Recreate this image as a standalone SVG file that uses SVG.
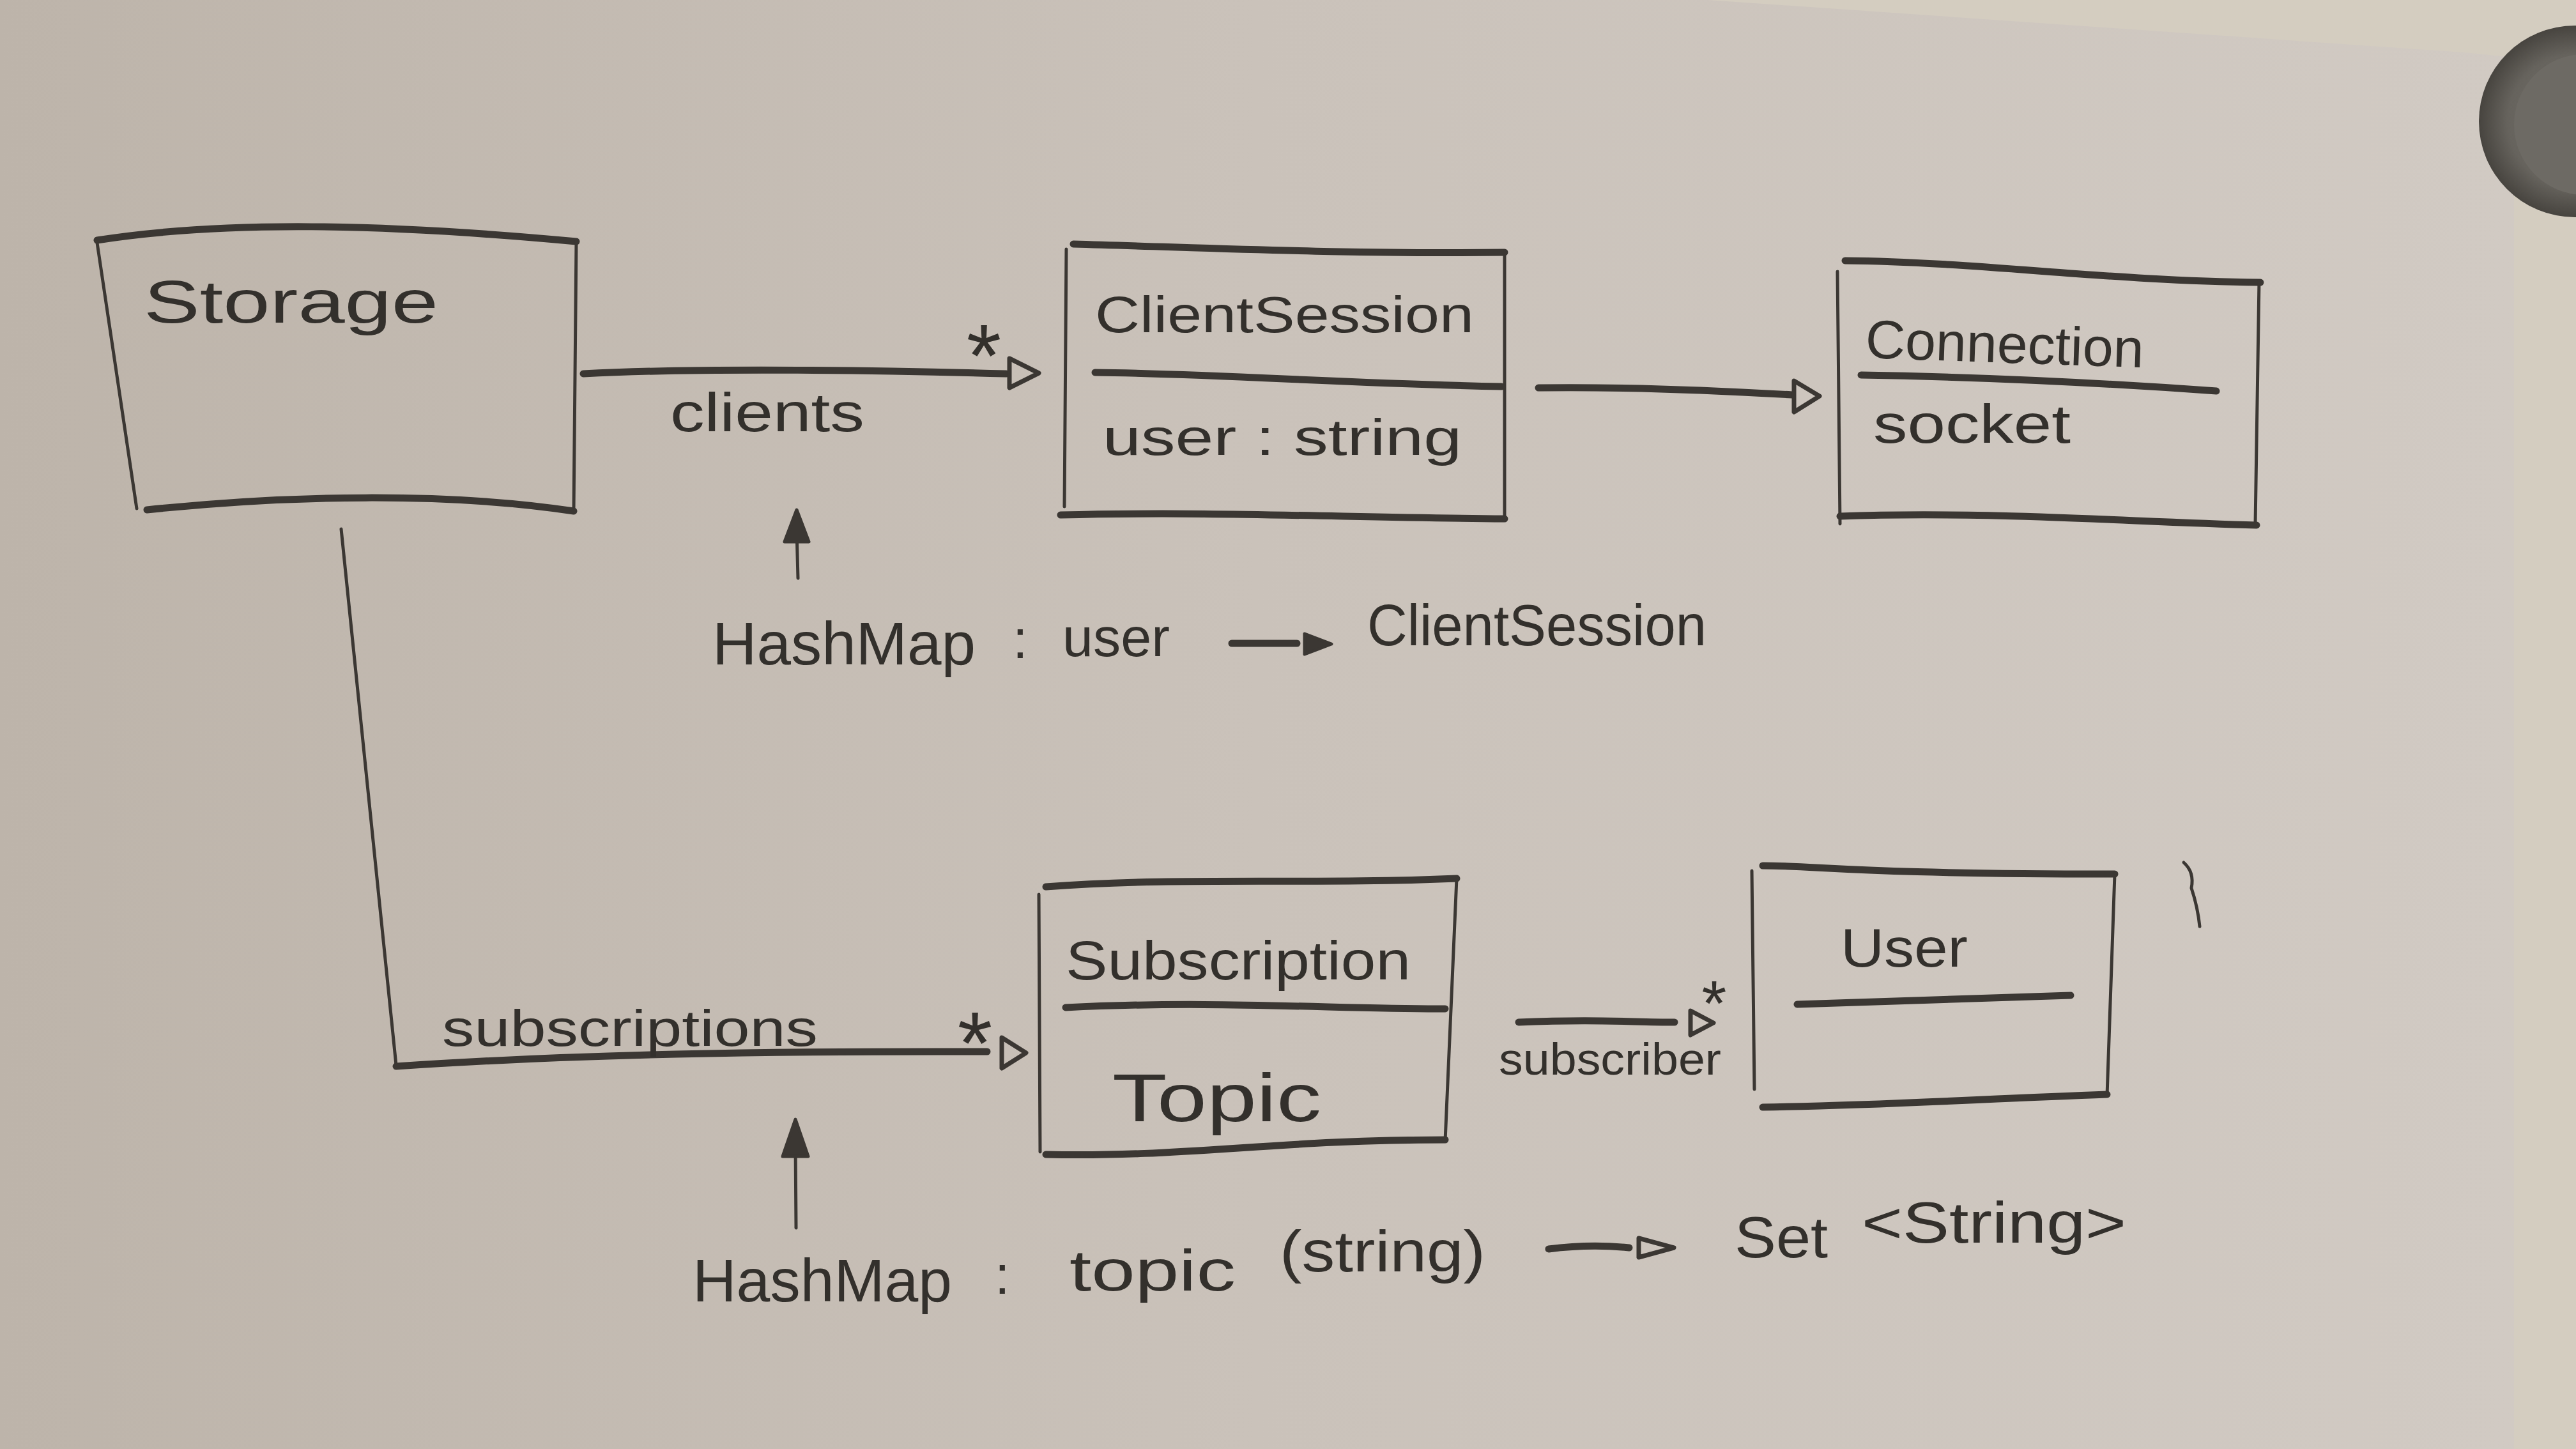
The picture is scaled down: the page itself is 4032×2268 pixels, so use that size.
<svg xmlns="http://www.w3.org/2000/svg" width="4032" height="2268" viewBox="0 0 4032 2268">
<defs>
<linearGradient id="paper" x1="0" y1="0" x2="1" y2="0">
<stop offset="0" stop-color="#bdb4aa"/>
<stop offset="0.5" stop-color="#cac2ba"/>
<stop offset="1" stop-color="#d1cac3"/>
</linearGradient>
<radialGradient id="mag" cx="0.5" cy="0.5" r="0.5">
<stop offset="0" stop-color="#75726c"/>
<stop offset="0.7" stop-color="#66635d"/>
<stop offset="1" stop-color="#47443f"/>
</radialGradient>
<style>
.thick{fill:none;stroke:#3b3733;stroke-width:11;stroke-linecap:round;stroke-linejoin:round}
.thin{fill:none;stroke:#3b3733;stroke-width:5;stroke-linecap:round;stroke-linejoin:round}
.head{fill:none;stroke:#3b3733;stroke-width:7;stroke-linejoin:round}
.fhead{fill:#3b3733;stroke:#3b3733;stroke-width:5;stroke-linejoin:round}
.t{font-family:"Liberation Sans","DejaVu Sans",sans-serif;fill:#33302c;font-weight:normal}
</style>
</defs>
<rect x="0" y="0" width="4032" height="2268" fill="#d4cdc0"/>
<path d="M0,0 L2674,0 L3857,82 L3935,90 L3935,2268 L0,2268 Z" fill="url(#paper)"/>
<circle cx="4030" cy="190" r="150" fill="url(#mag)"/>
<circle cx="4045" cy="195" r="110" fill="#6d6a64"/>
<path d="M3418,1350 Q3435,1365 3430,1390 Q3440,1420 3443,1450" class="thin" stroke-width="4"/>

<g id="connectors">
<path d="M913,585 C1100,575 1400,580 1575,585" class="thick" stroke-width="9"/>
<path d="M1580,561 L1626,584 L1580,607 Z" class="head"/>
<text x="1540" y="605" class="t" font-size="140" text-anchor="middle">*</text>
<text x="1049" y="675" class="t" font-size="85" textLength="304" lengthAdjust="spacingAndGlyphs">clients</text>

<path d="M2408,607 C2550,605 2700,612 2805,618" class="thick" stroke-width="9"/>
<path d="M2808,596 L2848,620 L2808,645 Z" class="head"/>

<path d="M534,828 L620,1667" class="thin"/>
<path d="M620,1669 C900,1650 1200,1645 1545,1646" class="thick" stroke-width="9"/>
<path d="M1568,1624 L1606,1648 L1568,1672 Z" class="head"/>
<text x="1526" y="1681" class="t" font-size="140" text-anchor="middle">*</text>
<text x="692" y="1637" class="t" font-size="80" textLength="588" lengthAdjust="spacingAndGlyphs">subscriptions</text>

<path d="M2377,1600 C2500,1595 2550,1600 2621,1600" class="thick" stroke-width="9"/>
<path d="M2646,1582 L2682,1601 L2646,1620 Z" class="head"/>
<text x="2683" y="1605" class="t" font-size="100" text-anchor="middle">*</text>
<text x="2346" y="1682" class="t" font-size="70" textLength="348" lengthAdjust="spacingAndGlyphs">subscriber</text>

<path d="M1249,905 L1247,830" class="thin"/>
<path d="M1247,798 L1266,848 L1228,848 Z" class="fhead"/>
<path d="M1246,1922 L1245,1790" class="thin"/>
<path d="M1245,1752 L1265,1810 L1225,1810 Z" class="fhead"/>
</g>

<g id="hashmap-clients">
<text x="1115" y="1040" class="t" font-size="95" textLength="412" lengthAdjust="spacingAndGlyphs">HashMap</text>
<text x="1585" y="1030" class="t" font-size="85">:</text>
<text x="1663" y="1027" class="t" font-size="85" textLength="168" lengthAdjust="spacingAndGlyphs">user</text>
<path d="M1928,1007 L2030,1007" class="thick" stroke-width="10"/>
<path d="M2042,992 L2084,1008 L2042,1024 Z" class="fhead"/>
<text x="2140" y="1010" class="t" font-size="90" textLength="531" lengthAdjust="spacingAndGlyphs">ClientSession</text>
</g>

<g id="hashmap-subscriptions">
<text x="1084" y="2037" class="t" font-size="95" textLength="406" lengthAdjust="spacingAndGlyphs">HashMap</text>
<text x="1557" y="2025" class="t" font-size="85">:</text>
<text x="1674" y="2020" class="t" font-size="90" textLength="260" lengthAdjust="spacingAndGlyphs">topic</text>
<text x="2003" y="1990" class="t" font-size="90" textLength="322" lengthAdjust="spacingAndGlyphs">(string)</text>
<path d="M2424,1955 C2480,1948 2520,1950 2550,1953" class="thick" stroke-width="10"/>
<path d="M2565,1938 L2620,1953 L2565,1968 Z" class="head"/>
<text x="2715" y="1968" class="t" font-size="90" textLength="146" lengthAdjust="spacingAndGlyphs">Set</text>
<text x="2914" y="1945" class="t" font-size="90" textLength="414" lengthAdjust="spacingAndGlyphs">&lt;String&gt;</text>
</g>

<g id="storage">
<path d="M152,376 C350,345 600,350 902,378" class="thick"/>
<path d="M152,380 L214,796" class="thin"/>
<path d="M902,378 L898,800" class="thin"/>
<path d="M230,798 C450,775 700,770 898,800" class="thick"/>
<text x="225" y="505" class="t" font-size="95" textLength="461" lengthAdjust="spacingAndGlyphs">Storage</text>
</g>

<g id="client-session">
<path d="M1680,382 C1900,388 2100,398 2355,395" class="thick"/>
<path d="M1669,390 L1666,793" class="thin"/>
<path d="M2355,395 L2355,812" class="thin"/>
<path d="M1660,806 C1900,800 2100,810 2355,812" class="thick"/>
<path d="M1714,583 C1900,585 2100,600 2350,605" class="thick"/>
<text x="1714" y="520" class="t" font-size="80" textLength="593" lengthAdjust="spacingAndGlyphs">ClientSession</text>
<text x="1726" y="712" class="t" font-size="80" textLength="562" lengthAdjust="spacingAndGlyphs">user : string</text>
</g>

<g id="connection">
<path d="M2888,408 C3100,410 3300,440 3538,442" class="thick"/>
<path d="M2876,425 L2880,820" class="thin"/>
<path d="M3536,440 L3530,822" class="thin"/>
<path d="M2880,808 C3100,800 3300,815 3532,822" class="thick"/>
<path d="M2913,587 C3100,590 3300,600 3469,612" class="thick"/>
<text x="2919" y="560" class="t" font-size="85" textLength="436" lengthAdjust="spacingAndGlyphs" transform="rotate(2 2919 560)">Connection</text>
<text x="2932" y="693" class="t" font-size="85" textLength="309" lengthAdjust="spacingAndGlyphs">socket</text>
</g>

<g id="subscription">
<path d="M1637,1388 C1850,1372 2050,1385 2280,1375" class="thick"/>
<path d="M1626,1400 L1628,1803" class="thin"/>
<path d="M2280,1375 L2262,1786" class="thin"/>
<path d="M1637,1807 C1850,1812 2000,1784 2262,1784" class="thick"/>
<path d="M1668,1577 C1900,1565 2100,1580 2262,1579" class="thick"/>
<text x="1668" y="1533" class="t" font-size="85" textLength="540" lengthAdjust="spacingAndGlyphs">Subscription</text>
<text x="1741" y="1755" class="t" font-size="105" textLength="327" lengthAdjust="spacingAndGlyphs">Topic</text>
</g>

<g id="user">
<path d="M2759,1355 C2850,1355 2900,1368 3310,1368" class="thick"/>
<path d="M2742,1363 L2746,1705" class="thin"/>
<path d="M3310,1368 L3298,1715" class="thin"/>
<path d="M2759,1733 C2950,1730 3100,1720 3298,1713" class="thick"/>
<path d="M2813,1572 L3241,1558" class="thick"/>
<text x="2881" y="1513" class="t" font-size="85" textLength="199" lengthAdjust="spacingAndGlyphs">User</text>
</g>
</svg>
